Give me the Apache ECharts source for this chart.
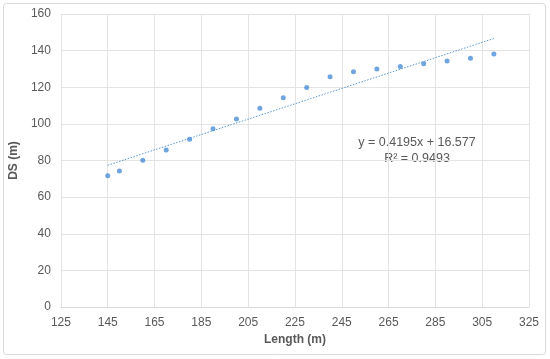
<!DOCTYPE html>
<html>
<head>
<meta charset="utf-8">
<script src="https://cdn.jsdelivr.net/npm/echarts@6/dist/echarts.min.js"></script>
<style>
html,body{margin:0;padding:0;background:#fff;}
#c{width:550px;height:359px;}
</style>
</head>
<body>
<div id="c"></div>
<script>
const lengths = [145,150,160,170,180,190,200,210,220,230,240,250,260,270,280,290,300,310];
const dsValues = [71.7,74.3,80.2,85.8,91.6,97.3,102.7,108.6,114.2,119.8,125.7,128.4,129.9,131.3,132.9,134.4,135.9,138.1];
const trendSlope = 0.4195;
const trendIntercept = 16.577;
const rSquared = 0.9493;
const xTicks = [125,145,165,185,205,225,245,265,285,305,325];
const yTicks = [0,20,40,60,80,100,120,140,160];

const points = lengths.map((x,i)=>[x, dsValues[i]]);
const xMin = Math.min(...lengths), xMax = Math.max(...lengths);
const trend = [[xMin, trendSlope*xMin+trendIntercept],[xMax, trendSlope*xMax+trendIntercept]];

const chart = echarts.init(document.getElementById('c'));
const font = "'Liberation Sans', Arial, sans-serif";
chart.setOption({
  animation:false,
  backgroundColor:'#fff',
  textStyle:{fontFamily:font},
  grid:{left:58,right:21,top:14,bottom:52,containLabel:false},
  xAxis:{
    type:'value',min:xTicks[0],max:xTicks[xTicks.length-1],interval:20,
    name:'Length (m)',nameLocation:'middle',nameGap:26,
    nameTextStyle:{fontWeight:'bold',fontSize:12,color:'#595959',fontFamily:font},
    axisLine:{show:true,lineStyle:{color:'#d9d9d9'}},
    axisTick:{show:false},
    axisLabel:{color:'#595959',fontSize:12,margin:10,fontFamily:font},
    splitLine:{show:true,lineStyle:{color:'#e3e3e3'}}
  },
  yAxis:{
    type:'value',min:yTicks[0],max:yTicks[yTicks.length-1],interval:20,
    name:'DS (m)',nameLocation:'middle',nameGap:38,nameRotate:90,
    nameTextStyle:{fontWeight:'bold',fontSize:12,color:'#595959',fontFamily:font},
    axisLine:{show:false},
    axisTick:{show:false},
    axisLabel:{color:'#595959',fontSize:12,margin:10,fontFamily:font},
    splitLine:{show:true,lineStyle:{color:'#e3e3e3'}}
  },
  graphic:[
    {type:'rect',shape:{x:3.5,y:3.5,width:542,height:351,r:3},style:{fill:'none',stroke:'#d9d9d9',lineWidth:1},z:-1},
    {type:'text',x:417,y:143,style:{text:'y = '+trendSlope+'x + '+trendIntercept,fill:'#595959',font:'12.5px '+font,textAlign:'center',textVerticalAlign:'middle'}},
    {type:'text',x:417,y:158.5,style:{text:'R² = '+rSquared,fill:'#595959',font:'12.5px '+font,textAlign:'center',textVerticalAlign:'middle'}}
  ],
  series:[
    {type:'scatter',data:points,symbol:'circle',symbolSize:5,itemStyle:{color:'#4a8fd6'},z:3},
    {type:'line',data:trend,symbol:'none',lineStyle:{color:'#5b9bd5',width:1,type:[1.5,1.5]},z:2}
  ]
});
</script>
</body>
</html>
